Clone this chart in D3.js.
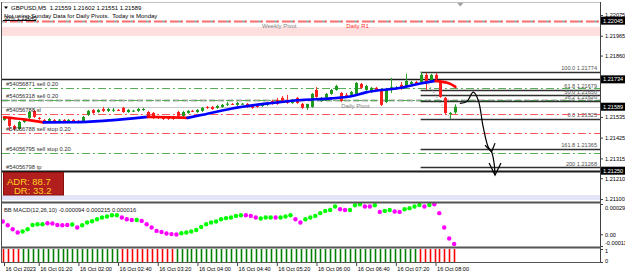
<!DOCTYPE html>
<html>
<head>
<meta charset="utf-8">
<script src="https://cdn.jsdelivr.net/npm/d3@7"></script>
<style>
  body { margin: 0; background: #fff; }
  svg { display: block; font-family: "Liberation Sans", Arial, sans-serif; }
  .axis path { display: none; }
  .axis line { stroke: #404040; }
  .axis text { fill: #000; font-size: 5.6px; }
</style>
</head>
<body>
<svg id="chart" width="625" height="273"></svg>
<script>
// ---- data ----
// GBPUSD M5 bars, [open, high, low, close]
var candles = [
  [1.21519,1.21540,1.21514,1.21535],[1.21530,1.21535,1.21461,1.21487],[1.21487,1.21493,1.21461,1.21471],
  [1.21471,1.21514,1.21466,1.21508],[1.21508,1.21524,1.21503,1.21519],[1.21530,1.21567,1.21524,1.21561],
  [1.21567,1.21572,1.21530,1.21535],[1.21530,1.21535,1.21519,1.21524],[1.21519,1.21524,1.21508,1.21514],
  [1.21514,1.21530,1.21508,1.21524],[1.21519,1.21524,1.21508,1.21514],[1.21519,1.21524,1.21514,1.21520],
  [1.21519,1.21524,1.21503,1.21508],[1.21508,1.21524,1.21503,1.21519],[1.21519,1.21524,1.21508,1.21514],
  [1.21514,1.21519,1.21503,1.21508],[1.21508,1.21540,1.21503,1.21535],[1.21546,1.21572,1.21540,1.21567],
  [1.21572,1.21577,1.21551,1.21556],[1.21561,1.21577,1.21556,1.21572],[1.21577,1.21588,1.21561,1.21567],
  [1.21567,1.21583,1.21561,1.21577],[1.21572,1.21583,1.21561,1.21573],[1.21572,1.21577,1.21567,1.21571],
  [1.21583,1.21588,1.21556,1.21561],[1.21561,1.21577,1.21556,1.21572],[1.21567,1.21572,1.21561,1.21568],
  [1.21567,1.21583,1.21561,1.21577],[1.21572,1.21583,1.21567,1.21577],[1.21561,1.21567,1.21535,1.21540],
  [1.21556,1.21561,1.21524,1.21535],[1.21535,1.21540,1.21524,1.21530],[1.21535,1.21540,1.21519,1.21524],
  [1.21530,1.21535,1.21519,1.21524],[1.21535,1.21540,1.21519,1.21524],[1.21561,1.21567,1.21535,1.21540],
  [1.21540,1.21567,1.21535,1.21561],[1.21556,1.21572,1.21551,1.21567],[1.21567,1.21572,1.21561,1.21566],
  [1.21561,1.21577,1.21556,1.21572],[1.21567,1.21588,1.21561,1.21583],[1.21588,1.21593,1.21577,1.21583],
  [1.21588,1.21593,1.21572,1.21577],[1.21583,1.21599,1.21577,1.21593],[1.21588,1.21604,1.21583,1.21599],
  [1.21604,1.21614,1.21593,1.21605],[1.21604,1.21609,1.21599,1.21603],[1.21599,1.21614,1.21593,1.21609],
  [1.21604,1.21609,1.21599,1.21605],[1.21604,1.21609,1.21583,1.21588],[1.21599,1.21604,1.21577,1.21583],
  [1.21593,1.21599,1.21583,1.21588],[1.21593,1.21609,1.21588,1.21604],[1.21599,1.21614,1.21593,1.21609],
  [1.21620,1.21625,1.21599,1.21604],[1.21625,1.21636,1.21599,1.21604],[1.21636,1.21646,1.21609,1.21614],
  [1.21625,1.21652,1.21604,1.21609],[1.21609,1.21630,1.21604,1.21625],[1.21636,1.21641,1.21604,1.21609],
  [1.21604,1.21609,1.21577,1.21583],[1.21583,1.21604,1.21572,1.21604],[1.21588,1.21662,1.21583,1.21657],
  [1.21678,1.21694,1.21636,1.21641],[1.21620,1.21641,1.21614,1.21636],[1.21636,1.21662,1.21630,1.21657],
  [1.21657,1.21683,1.21652,1.21678],[1.21678,1.21705,1.21673,1.21699],[1.21662,1.21667,1.21614,1.21620],
  [1.21652,1.21662,1.21641,1.21651],[1.21652,1.21673,1.21646,1.21667],[1.21657,1.21720,1.21652,1.21715],
  [1.21710,1.21715,1.21683,1.21689],[1.21678,1.21705,1.21673,1.21699],[1.21667,1.21694,1.21662,1.21689],
  [1.21689,1.21694,1.21673,1.21678],[1.21678,1.21683,1.21593,1.21599],[1.21614,1.21689,1.21609,1.21683],
  [1.21689,1.21742,1.21662,1.21694],[1.21683,1.21699,1.21678,1.21689],[1.21705,1.21720,1.21678,1.21694],
  [1.21694,1.21763,1.21689,1.21726],[1.21710,1.21726,1.21705,1.21720],[1.21720,1.21726,1.21705,1.21710],
  [1.21715,1.21774,1.21710,1.21758],[1.21758,1.21768,1.21678,1.21720],[1.21720,1.21763,1.21715,1.21758],
  [1.21758,1.21768,1.21726,1.21736],[1.21720,1.21726,1.21636,1.21641],[1.21636,1.21641,1.21546,1.21556],
  [1.21549,1.21561,1.21525,1.21556],[1.21559,1.21602,1.21551,1.21589]
];

// moving average, sampled [bar, price]
var maPoints = [
  [0,1.21533],[4,1.21522],[8,1.21506],[14,1.21507],[20,1.21514],[26,1.21527],[29,1.21535],
  [33,1.21533],[37,1.21530],[40,1.21546],[46,1.21580],[53,1.21606],[60,1.21625],[66,1.21633],
  [70,1.21644],[73,1.21665],[80,1.21689],[84,1.21712],[87,1.21726],[89,1.21718],[90,1.21710],[91,1.21694]
];

// BB MACD dots and their state (1 = lime, 0 = magenta)
var macdValues = [
  0.000122,0.000086,0.000048,0.000016,0.000026,0.000048,0.000089,0.000096,0.000096,0.000106,
  0.000103,0.000089,0.000086,0.000089,0.000093,0.000064,0.000086,0.000112,0.000125,0.000144,
  0.000160,0.000170,0.000182,0.000182,0.000160,0.000144,0.000137,0.000137,0.000128,0.000096,
  0.000064,0.000032,0.000022,0.000007,0.000001,-0.000002,0.000010,0.000016,0.000026,0.000041,
  0.000070,0.000096,0.000112,0.000122,0.000144,0.000154,0.000160,0.000176,0.000182,0.000182,
  0.000176,0.000160,0.000151,0.000160,0.000160,0.000160,0.000160,0.000170,0.000182,0.000144,
  0.000112,0.000144,0.000160,0.000176,0.000202,0.000224,0.000233,0.000266,0.000240,0.000233,
  0.000233,0.000278,0.000288,0.000266,0.000266,0.000278,0.000214,0.000224,0.000233,0.000218,
  0.000214,0.000240,0.000250,0.000266,0.000281,0.000266,0.000281,0.000288,0.000202,0.000064,
  -0.000041,-0.000094
];
var macdUp = [
  0,0,0,0,1,1,1,1,1,0, 0,0,0,0,1,0,1,1,1,1, 1,1,1,1,0,0,0,1,0,0,
  0,0,0,0,0,0,1,1,1,1, 1,1,1,1,1,1,1,1,1,0, 0,0,1,1,1,0,1,1,1,0,
  0,1,1,1,1,1,1,1,0,0, 1,1,1,0,0,1,0,1,1,0, 0,1,1,1,1,0,1,0,0,0,
  0,0
];

// bottom 0/1 histogram: 1 = green, 0 = red
var trendState = [
  0,0,0,0,1,1,1,1,1,1, 1,1,1,1,1,1,1,1,1,1, 1,1,1,1,0,0,0,0,0,0,
  0,0,0,0,0,1,1,1,1,1, 1,1,1,1,1,1,1,1,1,1, 1,1,1,1,1,1,1,1,1,1,
  1,1,1,1,1,1,1,1,1,1, 1,1,1,1,1,1,1,1,1,1, 1,1,1,1,0,0,0,0,0,0,
  0,0
];

var timeTicks = [0,7,15,23,31,39,47,55,63,71,79,87];
var timeLabels = ["16 Oct 2023","16 Oct 01:20","16 Oct 02:00","16 Oct 02:40","16 Oct 03:20","16 Oct 04:00",
  "16 Oct 04:40","16 Oct 05:20","16 Oct 06:00","16 Oct 06:40","16 Oct 07:20","16 Oct 08:00"];

var priceTicks = [1.22075,1.21965,1.21860,1.21535,1.21425,1.21315,1.21210,1.21100];
var priceMarks = [1.22045,1.21734,1.21589,1.21250];

var orderNames  = ["#54056871 sell 0.20","#54056318 sell 0.20","#54056788 sl","#54056788 sell stop 0.20","#54056795 sell stop 0.20","#54056798 tp",""];
var orderPrices = [1.21689,1.21622,1.21551,1.21448,1.21342,1.21250,1.21734];
var orderKinds  = ["buy","buy","stop","stop","buy","tp","tp"];

var pivotNames  = ["Weekly Pivot","Daily R1","Daily Pivot"];
var pivotPrices = [1.22045,1.22045,1.21622];
var pivotBars   = [52,69,68];

var fibLevels = ["100.0","61.8","50.0","38.2","0.0","161.8","200"];
var fibPrices = [1.21774,1.21679,1.21650,1.21620,1.21525,1.21365,1.21268];
var fibFrom = [84,1.21774], fibTo = [90,1.21525];

var arrowPts = [[91.9,1.21607],[93.3,1.21616],[94.6,1.21666],[95.6,1.21625],[96.6,1.21483],
  [97.6,1.21377],[98.3,1.21350],[98.8,1.21291],[99.0,1.21227]];
var arrowHeads = [
  [[97.0,1.21385],[98.3,1.21350],[99.0,1.21396]],
  [[97.8,1.21291],[99.0,1.21227],[100.2,1.21291]]
];

var pinkZone = [1.21964,1.22011];
var lavenderZone = [1.21095,1.21121];
var adr = 88.7, dr = 33.2;

// ---- layout ----
var svg = d3.select('#chart');
var left = 2, right = 600;

var x = d3.scaleLinear().domain([0, 100]).range([4, 500]);
var y = d3.scaleLinear().domain([1.21100, 1.22075]).range([199, 15]);
var ym = d3.scaleLinear().domain([-0.000113, 0.00029]).range([246, 204]);
var ys = d3.scaleLinear().domain([0, 1]).range([262, 249]);

var defs = svg.append('defs');
defs.append('clipPath').attr('id', 'cmain').append('rect')
  .attr('x', left).attr('y', 3).attr('width', right - left).attr('height', 199);

var main = svg.append('g').attr('clip-path', 'url(#cmain)');

// zones
main.append('rect').attr('x', left).attr('width', right - left)
  .attr('y', y(pinkZone[1])).attr('height', y(pinkZone[0]) - y(pinkZone[1]))
  .attr('fill', '#ffdede');
main.append('rect').attr('x', left).attr('width', right - left)
  .attr('y', y(lavenderZone[1])).attr('height', y(lavenderZone[0]) - y(lavenderZone[1]))
  .attr('fill', '#e4e4f8');

function hline(g, p, x0, color, width, dash) {
  var yy = Math.round(y(p)) + 0.5;
  return g.append('line').attr('x1', x0).attr('x2', right).attr('y1', yy).attr('y2', yy)
    .attr('stroke', color).attr('stroke-width', width).attr('stroke-dasharray', dash || null);
}

// pivot lines
hline(main, pivotPrices[0], left, '#a0a0a0', 2, '4,12');
hline(main, pivotPrices[1], left, '#ff6a6a', 2, '8,3,2,3').attr('stroke-dashoffset', 8);
hline(main, pivotPrices[2], left, '#a8a8a8', 2, '6,3');

// current bid line
hline(main, 1.21589, left, '#c8c8c8', 1);

// order lines
orderPrices.forEach(function (p, i) {
  var k = orderKinds[i];
  if (k === 'buy') hline(main, p, left, '#55b055', 1, '8,3,2,3');
  else if (k === 'stop') hline(main, p, left, '#ff5a5a', 1, '8,3,2,3');
  else hline(main, p, left, '#1a1a1a', i === 5 ? 2 : 1.4);
});

// fibonacci
fibPrices.forEach(function (p) {
  hline(main, p, x(fibFrom[0]), '#303030', 1.3);
});
main.append('line')
  .attr('x1', x(fibFrom[0])).attr('y1', y(fibFrom[1]))
  .attr('x2', x(fibTo[0])).attr('y2', y(fibTo[1]))
  .attr('stroke', '#909090').attr('stroke-dasharray', '1,2');
main.selectAll('text.fib').data(fibLevels).join('text').attr('class', 'fib')
  .attr('x', right - 3).attr('y', function (d, i) { return y(fibPrices[i]) - 1.5; })
  .attr('text-anchor', 'end').attr('font-size', 5.6).attr('fill', '#505050')
  .attr('xml:space', 'preserve')
  .text(function (d, i) { return d + ' ' + d3.format('.5f')(fibPrices[i]); });

// candles
var cg = main.append('g');
cg.selectAll('line').data(candles).join('line')
  .attr('x1', function (d, i) { return Math.round(x(i)) + 0.5; })
  .attr('x2', function (d, i) { return Math.round(x(i)) + 0.5; })
  .attr('y1', function (d) { return y(d[1]); })
  .attr('y2', function (d) { return y(d[2]); })
  .attr('stroke', function (d) { return d[3] >= d[0] ? '#2e9e2e' : '#ff3030'; });
cg.selectAll('rect').data(candles).join('rect')
  .attr('x', function (d, i) { return Math.round(x(i)) - 1; })
  .attr('width', 3)
  .attr('y', function (d) { return y(Math.max(d[0], d[3])); })
  .attr('height', function (d) { return Math.max(1, Math.abs(y(d[0]) - y(d[3]))); })
  .attr('fill', function (d) { return d[3] >= d[0] ? '#1e9a1e' : '#ff1e1e'; });

// moving average, blue when rising, red when falling
var maLine = d3.line().x(function (d) { return x(d[0]); }).y(function (d) { return y(d[1]); })
  .curve(d3.curveMonotoneX);
var runs = [], cur = null;
for (var k = 0; k < maPoints.length - 1; k++) {
  var up = maPoints[k + 1][1] >= maPoints[k][1];
  if (!cur || cur.up !== up) { cur = { up: up, pts: [maPoints[k]] }; runs.push(cur); }
  cur.pts.push(maPoints[k + 1]);
}
main.selectAll('path.ma').data(runs).join('path').attr('class', 'ma')
  .attr('d', function (r) { return maLine(r.pts); })
  .attr('fill', 'none').attr('stroke-width', 2.6).attr('stroke-linecap', 'round')
  .attr('stroke', function (r) { return r.up ? '#0000ff' : '#ff0000'; });

// hand drawn arrow
var arrowLine = d3.line().x(function (d) { return x(d[0]); }).y(function (d) { return y(d[1]); });
main.append('path').attr('d', arrowLine.curve(d3.curveCatmullRom)(arrowPts))
  .attr('fill', 'none').attr('stroke', '#000').attr('stroke-width', 1.2);
main.selectAll('path.head').data(arrowHeads).join('path').attr('class', 'head')
  .attr('d', d3.line().x(function (d) { return x(d[0]); }).y(function (d) { return y(d[1]); }))
  .attr('fill', 'none').attr('stroke', '#000').attr('stroke-width', 1.2);

// labels of lines
main.selectAll('text.order').data(orderNames).join('text').attr('class', 'order')
  .attr('x', 6).attr('y', function (d, i) { return Math.round(y(orderPrices[i])) - 2; })
  .attr('font-size', 5.8).attr('fill', '#303030').text(function (d) { return d; });
main.append('text').attr('x', 6).attr('y', y(1.21250) + 5).attr('font-size', 5.8)
  .attr('fill', '#5a1010').text('#54056795 tp');
main.selectAll('text.pivot').data(pivotNames).join('text').attr('class', 'pivot')
  .attr('x', function (d, i) { return x(pivotBars[i]); })
  .attr('y', function (d, i) { return y(pivotPrices[i]) + 7.5; })
  .attr('font-size', 6).attr('fill', function (d) { return d === 'Daily R1' ? '#ff3030' : '#808080'; })
  .text(function (d) { return d; });

// ADR box
var adrG = main.append('g');
adrG.append('rect').attr('x', 3.5).attr('y', 172.5).attr('width', 60).attr('height', 22.5)
  .attr('fill', '#b01e1e').attr('stroke', '#8a1010');
adrG.append('text').attr('x', 7).attr('y', 184.5).attr('font-size', 9.5).attr('fill', '#ffd21e')
  .text('ADR: ' + adr);
adrG.append('text').attr('x', 14).attr('y', 193.8).attr('font-size', 9.5).attr('fill', '#ffd21e')
  .text('DR: ' + dr);

// header texts
svg.append('path').attr('d', 'M4,6.5 L8,6.5 L6,9 Z').attr('fill', '#000');
svg.append('text').attr('x', 11).attr('y', 10).attr('font-size', 6).attr('xml:space', 'preserve')
  .text('GBPUSD,M5  1.21559 1.21602 1.21551 1.21589');
svg.append('text').attr('x', 4).attr('y', 17.5).attr('font-size', 6).attr('xml:space', 'preserve')
  .text('Not using Sunday Data for Daily Pivots.  Today is Monday');
svg.append('text').attr('x', 4).attr('y', 20).attr('font-size', 5.6).attr('fill', '#202020')
  .text('30% 1.22045');
svg.append('line').attr('x1', 3).attr('x2', 36).attr('y1', 20.5).attr('y2', 20.5)
  .attr('stroke', '#000').attr('stroke-width', 1);
svg.append('path').attr('d', 'M' + (x(92) - 3) + ',3 L' + (x(92) + 3) + ',3 L' + x(92) + ',6.5 Z')
  .attr('fill', '#a0a0a0');

// ---- MACD window ----
defs.append('clipPath').attr('id', 'cmacd').append('rect')
  .attr('x', left).attr('y', 203).attr('width', right - left).attr('height', 44);
var mg = svg.append('g').attr('clip-path', 'url(#cmacd)');
mg.selectAll('circle').data(macdValues).join('circle')
  .attr('cx', function (d, i) { return x(i) - 1.2; })
  .attr('cy', function (d) { return ym(d); })
  .attr('r', 2.2)
  .attr('fill', function (d, i) { return macdUp[i] ? '#00ff00' : '#ff00ff'; });
svg.append('text').attr('x', 4).attr('y', 211.5).attr('font-size', 5.8).attr('fill', '#202020')
  .text('BB MACD(12,26,10) -0.000094 0.000215 0.000016');

// ---- 0/1 histogram window ----
svg.append('g').selectAll('line').data(trendState).join('line')
  .attr('x1', function (d, i) { return Math.round(x(i)) - 0.5; })
  .attr('x2', function (d, i) { return Math.round(x(i)) - 0.5; })
  .attr('y1', ys(0)).attr('y2', ys(1))
  .attr('stroke-width', 1.6)
  .attr('stroke', function (d) { return d ? '#008000' : '#ff0000'; });

// ---- frame ----
var frame = svg.append('g').attr('fill', 'none');
frame.append('line').attr('x1', left).attr('x2', right).attr('y1', 2.5).attr('y2', 2.5).attr('stroke', '#c0c0c0');
frame.append('line').attr('x1', 1.5).attr('x2', 1.5).attr('y1', 2).attr('y2', 263).attr('stroke', '#505050');
frame.append('line').attr('x1', right + 0.5).attr('x2', right + 0.5).attr('y1', 2).attr('y2', 263).attr('stroke', '#404040');
[202.5, 247.5, 262.5].forEach(function (yy, i) {
  frame.append('line').attr('x1', left).attr('x2', right + 1).attr('y1', yy).attr('y2', yy)
    .attr('stroke', '#555').attr('stroke-width', i < 2 ? 2 : 1.2);
});

// ---- axes ----
var fmt5 = d3.format('.5f');
svg.append('g').attr('class', 'axis').attr('transform', 'translate(' + (right + 1) + ',0)')
  .call(d3.axisRight(y).tickValues(priceTicks).tickFormat(fmt5).tickSize(2).tickPadding(2));

var marks = svg.append('g');
marks.selectAll('rect').data(priceMarks).join('rect')
  .attr('x', right + 1).attr('width', 24).attr('height', 8)
  .attr('y', function (d) { return y(d) - 4; }).attr('fill', '#000');
marks.selectAll('text').data(priceMarks).join('text')
  .attr('x', right + 3).attr('y', function (d) { return y(d) + 2; })
  .attr('font-size', 5.6).attr('fill', '#fff').text(fmt5);

var macdTicks = [0.00029, 0, -0.000113];
var macdText = ['0.00029', '0.00', '-0.000113'];
var macdDy = [4, 0, -3];
svg.append('g').attr('class', 'axis').attr('transform', 'translate(' + (right + 1) + ',0)')
  .call(d3.axisRight(ym).tickValues(macdTicks).tickSize(2).tickPadding(2)
    .tickFormat(function (d, i) { return macdText[i]; }))
  .selectAll('text').attr('dy', function (d, i) { return (0.32 * 5.6 + macdDy[i]) + 'px'; });

svg.append('g').attr('class', 'axis').attr('transform', 'translate(' + (right + 1) + ',0)')
  .call(d3.axisRight(ys).tickValues([1, 0]).tickSize(2).tickPadding(2).tickFormat(d3.format('d')))
  .selectAll('text').attr('dy', function (d) { return d ? '3.5px' : '0.5px'; });

svg.append('g').attr('class', 'axis').attr('transform', 'translate(0,263)')
  .call(d3.axisBottom(x).tickValues(timeTicks).tickSize(3).tickPadding(1)
    .tickFormat(function (d, i) { return timeLabels[i]; }))
  .selectAll('text').attr('text-anchor', 'start').attr('dx', '1px').attr('font-size', 6);
</script>
</body>
</html>
